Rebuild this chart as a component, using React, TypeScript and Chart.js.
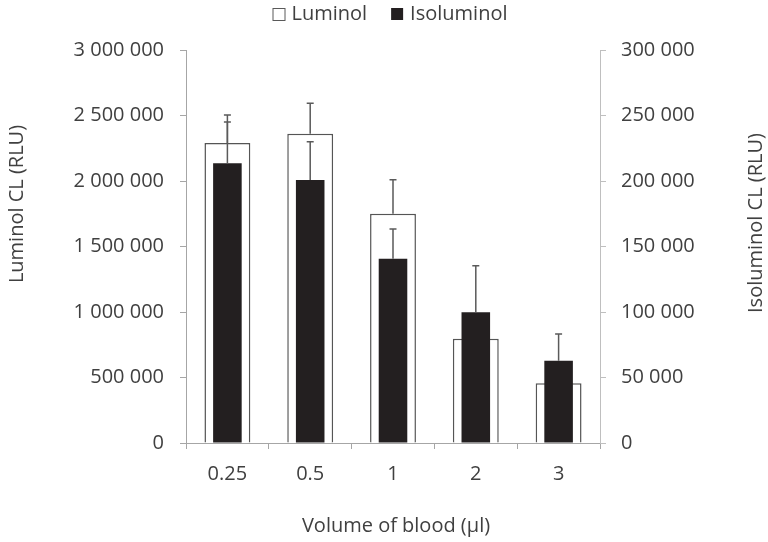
import React, { useEffect, useRef } from "react";
import { Chart, registerables } from "chart.js";

Chart.register(...registerables);

const categories = ["0.25", "0.5", "1", "2", "3"];
const luminolValues = [2290000, 2360000, 1750000, 795000, 456000];
const luminolErrors = [214000, 233000, 260000, 100000, 120000];
const isoluminolValues = [213600, 200800, 140700, 99800, 62800];
const isoluminolErrors = [31400, 29200, 22700, 35500, 20400];

const seriesNames = ["Luminol", "Isoluminol"];
const xTitle = "Volume of blood (µl)";
const yLeftTitle = "Luminol CL (RLU)";
const yRightTitle = "Isoluminol CL (RLU)";

const FONT = "'Open Sans', 'DejaVu Sans', sans-serif";
const TEXT = "#404040";
const AXIS = "#a6a6a6";
const AXIS_R = "#bfbfbf";
const BLACK = "#231f20";

const fmt = (v: number) => String(v).replace(/\B(?=(\d{3})+(?!\d))/g, " ");

const errorBarPlugin = {
  id: "errorBars",
  afterDatasetDraw(chart: any, args: any) {
    const ds = chart.data.datasets[args.index];
    const errs: number[] = ds.errors;
    if (!errs) return;
    const meta = args.meta;
    const yScale = chart.scales[meta.yAxisID];
    const ctx = chart.ctx;
    ctx.save();
    ctx.strokeStyle = "#5a5a5a";
    ctx.lineWidth = 1.5;
    meta.data.forEach((bar: any, i: number) => {
      const v = ds.data[i];
      const yTop = yScale.getPixelForValue(v);
      const yErr = yScale.getPixelForValue(v + errs[i]);
      ctx.beginPath();
      ctx.moveTo(bar.x, yTop);
      ctx.lineTo(bar.x, yErr);
      ctx.moveTo(bar.x - 3.5, yErr);
      ctx.lineTo(bar.x + 3.5, yErr);
      ctx.stroke();
    });
    ctx.restore();
  },
};

const textPlugin = {
  id: "customText",
  afterDraw(chart: any) {
    const ctx = chart.ctx;
    const area = chart.chartArea;
    ctx.save();
    ctx.fillStyle = TEXT;
    ctx.font = `20px ${FONT}`;
    ctx.textBaseline = "middle";
    ctx.textAlign = "center";
    // bottom title
    ctx.fillText(xTitle, (area.left + area.right) / 2 + 3, 526);
    // left title
    ctx.save();
    ctx.translate(17, 204);
    ctx.rotate(-Math.PI / 2);
    ctx.fillText(yLeftTitle, 0, 0);
    ctx.restore();
    // right title
    ctx.save();
    ctx.translate(756, 223);
    ctx.rotate(-Math.PI / 2);
    ctx.fillText(yRightTitle, 0, 0);
    ctx.restore();

    // legend
    const box = 12;
    const gapBox = 7;
    const gapItem = 24;
    const w1 = ctx.measureText(seriesNames[0]).width;
    const w2 = ctx.measureText(seriesNames[1]).width;
    const total = box + gapBox + w1 + gapItem + box + gapBox + w2;
    let x = 390 - total / 2;
    const cy = 14;
    ctx.textAlign = "left";
    ctx.fillStyle = "#ffffff";
    ctx.fillRect(x + 0.5, cy - box / 2 + 0.5, box, box);
    ctx.strokeStyle = "#595959";
    ctx.lineWidth = 1;
    ctx.strokeRect(x + 0.5, cy - box / 2 + 0.5, box, box);
    x += box + gapBox;
    ctx.fillStyle = TEXT;
    ctx.fillText(seriesNames[0], x, cy);
    x += w1 + gapItem;
    ctx.fillStyle = BLACK;
    ctx.fillRect(x, cy - box / 2, box, box);
    x += box + gapBox;
    ctx.fillStyle = TEXT;
    ctx.fillText(seriesNames[1], x, cy);
    ctx.restore();
  },
};

export default function App() {
  const canvasRef = useRef<HTMLCanvasElement | null>(null);

  useEffect(() => {
    if (!canvasRef.current) return;
    const tickFont = { family: FONT, size: 20 };
    const chart = new Chart(canvasRef.current, {
      type: "bar",
      data: {
        labels: categories,
        datasets: [
          {
            label: seriesNames[0],
            data: luminolValues,
            errors: luminolErrors,
            yAxisID: "y",
            backgroundColor: "#ffffff",
            borderColor: "#555555",
            borderWidth: 1.5,
            borderSkipped: "start",
            grouped: false,
            categoryPercentage: 1,
            barPercentage: 0.554,
            order: 2,
          } as any,
          {
            label: seriesNames[1],
            data: isoluminolValues,
            errors: isoluminolErrors,
            yAxisID: "y1",
            backgroundColor: BLACK,
            borderWidth: 0,
            grouped: false,
            categoryPercentage: 1,
            barPercentage: 0.345,
            order: 1,
          } as any,
        ],
      },
      options: {
        animation: false,
        responsive: true,
        maintainAspectRatio: false,
        layout: { padding: { top: 50, left: 0, right: 0, bottom: 0 } },
        plugins: {
          legend: { display: false },
          tooltip: { enabled: false },
          title: { display: false },
        },
        scales: {
          x: {
            grid: {
              display: true,
              drawOnChartArea: false,
              drawTicks: true,
              tickLength: 6,
              color: AXIS,
              offset: true,
            },
            border: { display: true, color: AXIS, width: 1 },
            ticks: { font: tickFont, color: TEXT, padding: 13 },
            afterFit: (s: any) => {
              s.height = 99;
            },
          },
          y: {
            position: "left",
            min: 0,
            max: 3000000,
            grid: { display: true, drawOnChartArea: false, tickLength: 6, color: AXIS },
            border: { display: true, color: AXIS, width: 1 },
            ticks: {
              stepSize: 500000,
              font: tickFont,
              color: TEXT,
              padding: 16,
              callback: (v: any) => fmt(Number(v)),
            },
            afterFit: (s: any) => {
              s.width = 186;
            },
          },
          y1: {
            position: "right",
            min: 0,
            max: 300000,
            grid: { display: true, drawOnChartArea: false, tickLength: 6, color: AXIS_R },
            border: { display: true, color: AXIS_R, width: 1 },
            ticks: {
              stepSize: 50000,
              font: tickFont,
              color: TEXT,
              padding: 15,
              callback: (v: any) => fmt(Number(v)),
            },
            afterFit: (s: any) => {
              s.width = 168;
            },
          },
        },
      } as any,
      plugins: [errorBarPlugin, textPlugin],
    });
    const fonts = (document as any).fonts;
    if (fonts && fonts.load) {
      fonts.load(`20px 'Open Sans'`).then(() => chart.update()).catch(() => {});
    }
    return () => chart.destroy();
  }, []);

  return (
    <div style={{ position: "absolute", left: 0, top: 0, width: 768, height: 542 }}>
      <canvas ref={canvasRef} />
    </div>
  );
}
